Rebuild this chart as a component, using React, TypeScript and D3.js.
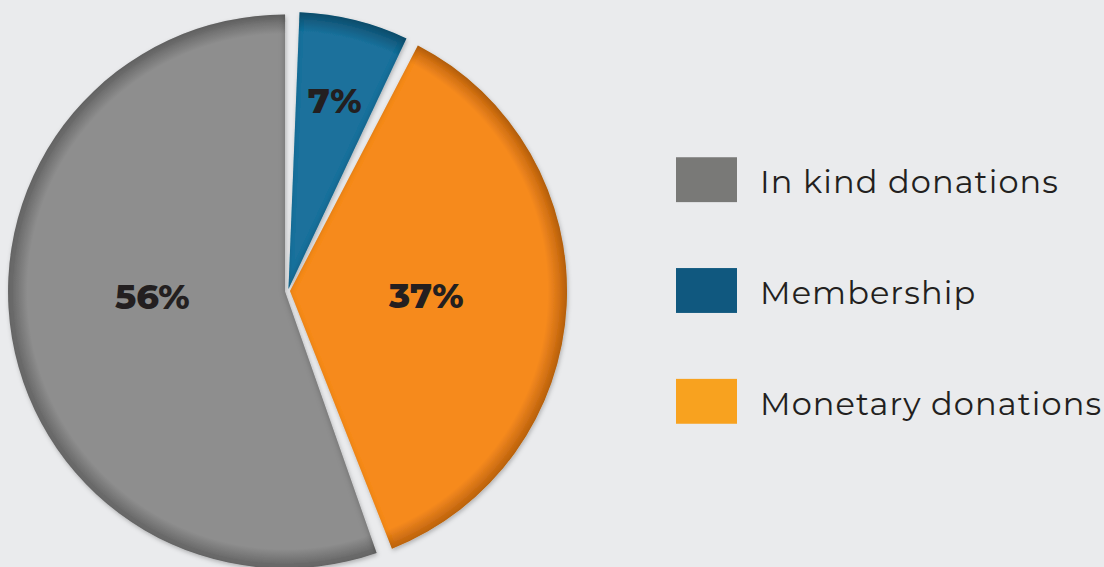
import * as d3 from "d3";
import { useEffect } from "react";

// ----- Data ---------------------------------------------------------------
const categories = ["Membership", "Monetary donations", "In kind donations"];
const shares = [7, 37, 56];
const legendOrder = ["In kind donations", "Membership", "Monetary donations"];

// ----- Styling --------------------------------------------------------------
const sliceFill: Record<string, string> = {
  Membership: "#1a719c",
  "Monetary donations": "#f68a1f",
  "In kind donations": "#8e8e8e",
};
const sliceRim: Record<string, string> = {
  Membership: "#125678",
  "Monetary donations": "#c86a12",
  "In kind donations": "#6a6a6a",
};
const legendFill: Record<string, string> = {
  Membership: "#10587f",
  "Monetary donations": "#f8a21f",
  "In kind donations": "#797977",
};
// how far each label sits from the centre (fraction of radius) and a small angular nudge
const labelPlace: Record<string, { r: number; nudge: number }> = {
  Membership: { r: 0.71, nudge: 0.0 },
  "Monetary donations": { r: 0.5, nudge: -0.02 },
  "In kind donations": { r: 0.49, nudge: 0.13 },
};

const W = 1104;
const H = 567;
const cx = 288;
const cy = 291;
const R = 277;
const pad = 0.02; // radians trimmed from each side of a slice
const explode: Record<string, number> = {
  Membership: 2,
  "Monetary donations": 2,
  "In kind donations": 3,
};

export default function App() {
  useEffect(() => {
    document.body.style.margin = "0";
    document.body.style.background = "#eaebed";
  }, []);

  const pie = d3
    .pie<number>()
    .sort(null)
    .startAngle(pad)
    .endAngle(2 * Math.PI + pad)
    .value((d) => d);
  const arcsData = pie(shares);

  const arc = d3.arc<any>().innerRadius(0).outerRadius(R);

  const legendY = d3
    .scaleBand<string>()
    .domain(legendOrder)
    .range([124, 457])
    .paddingInner(0.595)
    .paddingOuter(0.3);

  const font = "Montserrat, 'Noto Sans', 'Open Sans', sans-serif";

  return (
    <svg width={W} height={H} style={{ display: "block", background: "#eaebed" }}>
      <defs>
        {categories.map((c, i) => (
          <radialGradient
            key={c}
            id={`rim${i}`}
            gradientUnits="userSpaceOnUse"
            cx={0}
            cy={0}
            r={R}
          >
            <stop offset="0" stopColor={sliceFill[c]} />
            <stop offset="0.93" stopColor={sliceFill[c]} />
            <stop offset="0.985" stopColor={sliceRim[c]} />
            <stop offset="1" stopColor={sliceRim[c]} />
          </radialGradient>
        ))}
        <filter id="shade" x="-10%" y="-10%" width="120%" height="120%">
          <feGaussianBlur in="SourceAlpha" stdDeviation="2.5" result="blur" />
          <feOffset in="blur" dx="-1" dy="1" result="off" />
          <feComposite in="SourceAlpha" in2="off" operator="out" result="inner" />
          <feFlood floodColor="#000" floodOpacity="0.35" />
          <feComposite in2="inner" operator="in" result="innerShadow" />
          <feDropShadow dx="1" dy="2" stdDeviation="2" floodColor="#000" floodOpacity="0.25" in="SourceGraphic" result="drop" />
          <feMerge>
            <feMergeNode in="drop" />
            <feMergeNode in="innerShadow" />
          </feMerge>
        </filter>
      </defs>

      <g transform={`translate(${cx},${cy})`}>
        {arcsData.map((a, i) => {
          const c = categories[i];
          const mid = (a.startAngle + a.endAngle) / 2;
          const off = explode[c];
          const dx = Math.sin(mid) * off;
          const dy = -Math.cos(mid) * off;
          const d = arc({
            ...a,
            startAngle: a.startAngle + pad,
            endAngle: a.endAngle - pad,
          }) as string;
          return (
            <g key={c} transform={`translate(${dx},${dy})`} filter="url(#shade)">
              <path d={d} fill={`url(#rim${i})`} />
            </g>
          );
        })}
        {arcsData.map((a, i) => {
          const c = categories[i];
          const p = labelPlace[c];
          const ang = (a.startAngle + a.endAngle) / 2 + p.nudge;
          const x = Math.sin(ang) * R * p.r;
          const y = -Math.cos(ang) * R * p.r;
          return (
            <text
              key={c}
              x={x}
              y={y}
              dy="0.36em"
              textAnchor="middle"
              fontFamily={font}
              fontWeight={800}
              fontSize={35}
              fill="#231f20"
            >
              {`${shares[i]}%`}
            </text>
          );
        })}
      </g>

      <g>
        {legendOrder.map((c) => {
          const y = legendY(c) as number;
          const h = legendY.bandwidth();
          return (
            <g key={c}>
              <rect x={676} y={y} width={61} height={h} fill={legendFill[c]} />
              <text
                x={760}
                y={y + h / 2}
                dy="0.42em"
                fontFamily={font}
                fontSize={32}
                letterSpacing={1.1}
                fill="#231f20"
              >
                {c}
              </text>
            </g>
          );
        })}
      </g>
    </svg>
  );
}
